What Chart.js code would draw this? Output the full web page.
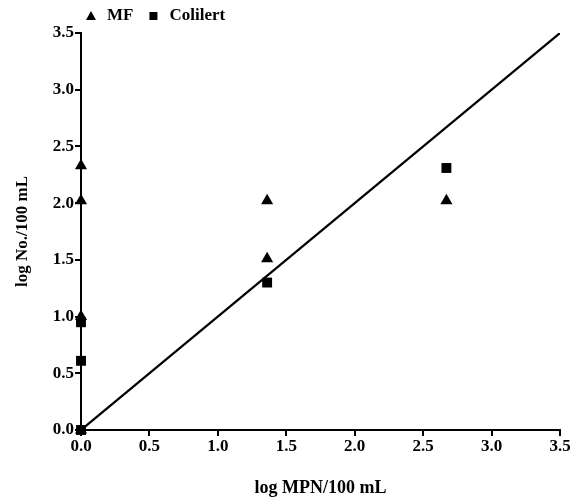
<!DOCTYPE html>
<html><head><meta charset="utf-8">
<script src="https://cdn.jsdelivr.net/npm/chart.js@4"></script>
<style>html,body{margin:0;padding:0;background:#fff}#wrap{width:581px;height:499px}</style>
</head><body><div id="wrap"><canvas id="c" width="581" height="499"></canvas></div>
<script>
const mfX = [0, 0, 0, 0, 1.36, 1.36, 2.67];
const mfY = [2.33, 2.02, 1.0, 0, 2.02, 1.51, 2.02];
const colX = [0, 0, 0, 1.36, 2.67];
const colY = [0.95, 0.61, 0, 1.30, 2.31];
const lineX = [0, 3.5];
const lineY = [0, 3.5];
const xTicks = [0, 0.5, 1.0, 1.5, 2.0, 2.5, 3.0, 3.5];
const yTicks = [0, 0.5, 1.0, 1.5, 2.0, 2.5, 3.0, 3.5];
const xTitle = 'log MPN/100 mL';
const yTitle = 'log No./100 mL';
const labels = ['MF', 'Colilert'];

const toPts = (xs, ys) => xs.map((x, i) => ({x, y: ys[i]}));
const FONT = '"Liberation Serif", "Times New Roman", serif';

const legendPlugin = {
  id: 'customLegend',
  afterDraw(chart) {
    const ctx = chart.ctx;
    ctx.save();
    ctx.fillStyle = '#000';
    ctx.font = 'bold 17px ' + FONT;
    ctx.textBaseline = 'middle';
    let x = 91, y = 16;
    chart.data.datasets.forEach(ds => {
      if (!ds.showInLegend) return;
      ctx.beginPath();
      if (ds.pointStyle === 'triangle') {
        ctx.moveTo(x, y - 5); ctx.lineTo(x + 5, y + 4); ctx.lineTo(x - 5, y + 4); ctx.closePath();
      } else {
        ctx.rect(x - 4, y - 4, 8, 8);
      }
      ctx.fill();
      ctx.fillText(ds.label, x + 16, y);
      x += 16 + ctx.measureText(ds.label).width + 20;
    });
    ctx.restore();
  }
};

new Chart(document.getElementById('c'), {
  type: 'scatter',
  data: {
    datasets: [
      {label: labels[0], data: toPts(mfX, mfY), pointStyle: 'triangle', pointRadius: 7, backgroundColor: '#000', borderColor: '#000', borderWidth: 0, clip: false, showInLegend: true},
      {label: labels[1], data: toPts(colX, colY), pointStyle: 'rect', pointRadius: 7, backgroundColor: '#000', borderColor: '#000', borderWidth: 0, clip: false, showInLegend: true},
      {type: 'line', label: 'line', data: toPts(lineX, lineY), pointRadius: 0, borderColor: '#000', borderWidth: 2.2, fill: false, showInLegend: false}
    ]
  },
  options: {
    responsive: false,
    animation: false,
    events: [],
    layout: {padding: {top: 33, right: 21, left: 0, bottom: 0}},
    plugins: {legend: {display: false}, tooltip: {enabled: false}},
    scales: {
      x: {
        type: 'linear', min: 0, max: 3.5,
        afterBuildTicks: s => { s.ticks = xTicks.map(v => ({value: v})); },
        afterFit: s => { s.height = 69; },
        border: {color: '#000', width: 2},
        grid: {drawOnChartArea: false, drawTicks: true, tickLength: 6, color: '#000', lineWidth: 2},
        ticks: {color: '#000', font: {family: FONT, size: 17, weight: 'bold'}, padding: 0, maxRotation: 0,
                callback: v => Number(v).toFixed(1)},
        title: {display: true, text: xTitle, color: '#000', font: {family: FONT, size: 18, weight: 'bold'}, padding: {top: 18, bottom: 0}}
      },
      y: {
        type: 'linear', min: 0, max: 3.5,
        afterBuildTicks: s => { s.ticks = yTicks.map(v => ({value: v})); },
        afterFit: s => { s.width = 81; },
        border: {color: '#000', width: 2},
        grid: {drawOnChartArea: false, drawTicks: true, tickLength: 6, color: '#000', lineWidth: 2},
        ticks: {color: '#000', font: {family: FONT, size: 17, weight: 'bold'}, padding: 1,
                callback: v => Number(v).toFixed(1)},
        title: {display: true, text: yTitle, color: '#000', font: {family: FONT, size: 17, weight: 'bold'}, padding: {top: 12, bottom: 4}}
      }
    }
  },
  plugins: [legendPlugin]
});
</script></body></html>
